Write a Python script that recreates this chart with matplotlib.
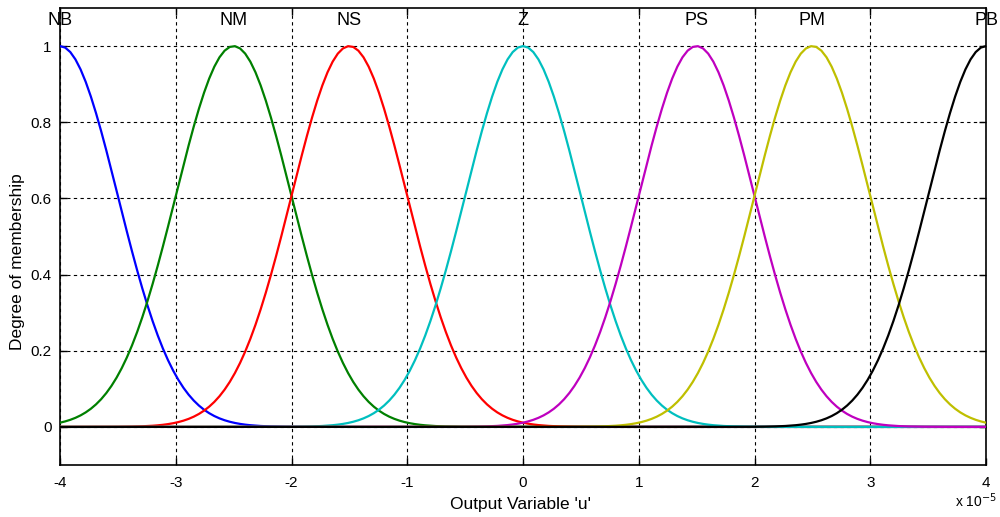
import numpy as np
import matplotlib
matplotlib.use("Agg")
import matplotlib.pyplot as plt

# Membership function parameters (Gaussian MFs), x in units of 1e-5
mf_names = ["NB", "NM", "NS", "Z", "PS", "PM", "PB"]
mf_centers = [-4.0, -2.5, -1.5, 0.0, 1.5, 2.5, 4.0]
mf_sigmas = [0.5, 0.5, 0.5, 0.5, 0.5, 0.5, 0.5]
mf_colors = ["#0000ff", "#008000", "#ff0000", "#00bfbf", "#bf00bf", "#bfbf00", "#000000"]
x_ticks = [-4, -3, -2, -1, 0, 1, 2, 3, 4]
y_ticks = [0, 0.2, 0.4, 0.6, 0.8, 1.0]
y_tick_labels = ["0", "0.2", "0.4", "0.6", "0.8", "1"]

plt.rcParams['font.family'] = ['Liberation Sans', 'DejaVu Sans']

fig = plt.figure(figsize=(10, 5.17), dpi=100)
ax = fig.add_axes([0.060, 1 - 465 / 517, 0.926, (465 - 8) / 517])

x = np.linspace(-4, 4, 181)
for name, c, s, col in zip(mf_names, mf_centers, mf_sigmas, mf_colors):
    y = np.exp(-((x - c) ** 2) / (2 * s ** 2))
    ax.plot(x, y, color=col, lw=1.6, zorder=3)
    ax.text(c, 1.045, name, ha="center", va="bottom", fontsize=13, zorder=4)

ax.set_xlim(-4, 4)
ax.set_ylim(-0.1, 1.1)
ax.set_xticks(x_ticks)
ax.set_xticklabels([str(t) for t in x_ticks])
ax.set_yticks(y_ticks)
ax.set_yticklabels(y_tick_labels)
ax.tick_params(direction="in", top=True, right=True, labelsize=11, length=5, width=1)
ax.tick_params(axis="x", pad=8)
ax.tick_params(axis="y", pad=6)
ax.grid(True, color="black", linestyle=(0, (3, 3)), linewidth=0.8)
for sp in ax.spines.values():
    sp.set_linewidth(1.2)

fig.text(0.521, (517 - 505) / 517, "Output Variable 'u'", fontsize=12.5,
         ha="center", va="center")
fig.text(0.018, (517 - 262) / 517, "Degree of membership", fontsize=12.5,
         ha="center", va="center", rotation=90)
fig.text(0.955, 10 / 517, r"x 10$^{-5}$", fontsize=10, ha="left", va="baseline")

fig.savefig("out.png", dpi=100)
